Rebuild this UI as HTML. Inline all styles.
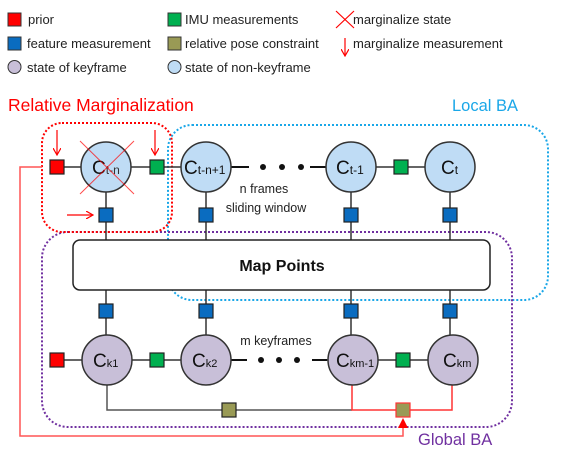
<!DOCTYPE html>
<html><head><meta charset="utf-8"><style>body{margin:0;background:#fff}svg{display:block;font-family:"Liberation Sans",sans-serif}</style></head><body>
<svg width="564" height="459" viewBox="0 0 564 459" xmlns="http://www.w3.org/2000/svg">
<defs><marker id="ah" markerWidth="8" markerHeight="8" refX="7" refY="4" orient="auto" markerUnits="userSpaceOnUse"><path d="M0,0 L7,4 L0,8" fill="none" stroke="#f00" stroke-width="1.2"/></marker></defs>
<!-- legend -->
<g font-size="13" fill="#222">
<rect x="8" y="13" width="13" height="13" fill="#f00" stroke="#333"/><text x="28" y="24">prior</text>
<rect x="8" y="37" width="13" height="13" fill="#0a6cc0" stroke="#333"/><text x="27" y="48">feature measurement</text>
<circle cx="14.5" cy="67" r="6.5" fill="#c8bfd8" stroke="#333"/><text x="27" y="72">state of keyframe</text>
<rect x="168" y="13" width="13" height="13" fill="#00b050" stroke="#333"/><text x="185" y="24">IMU measurements</text>
<rect x="168" y="37" width="13" height="13" fill="#999a55" stroke="#333"/><text x="185" y="48">relative pose constraint</text>
<circle cx="174.5" cy="67" r="6.5" fill="#bfdcf5" stroke="#333"/><text x="185" y="72">state of non-keyframe</text>
<path d="M336,11 L354,28 M354,11 L336,28" stroke="#f00" stroke-width="1.2"/><text x="353" y="24">marginalize state</text>
<path d="M345,38 L345,56" stroke="#f00" stroke-width="1.2" marker-end="url(#ah)"/><text x="353" y="48">marginalize measurement</text>
</g>
<!-- labels -->
<text x="8" y="111" font-size="17.5" fill="#f00">Relative Marginalization</text>
<text x="452" y="111" font-size="16.5" fill="#1aa7e8">Local BA</text>
<text x="418" y="445" font-size="16.5" fill="#7030a0">Global BA</text>
<!-- dotted boxes -->
<rect x="168" y="125" width="380" height="175" rx="24" fill="none" stroke="#1aa7e8" stroke-width="2" stroke-dasharray="2,2"/>
<rect x="42" y="232" width="470" height="195" rx="26" fill="none" stroke="#7030a0" stroke-width="2" stroke-dasharray="2,2"/>
<rect x="42" y="123" width="130" height="109" rx="20" fill="none" stroke="#f00" stroke-width="2" stroke-dasharray="2,2"/>
<!-- red marginalization path -->
<path d="M42,167 L20,167 L20,436 L403,436 L403,428" fill="none" stroke="#f55" stroke-width="1.5"/>
<path d="M398,428 L403,418 L408,428 Z" fill="#f00"/>
<!-- connectors -->
<g stroke="#333" stroke-width="1.5">
<line x1="57" y1="167" x2="450" y2="167"/>
<line x1="57" y1="360" x2="450" y2="360"/>
<line x1="106" y1="167" x2="106" y2="240"/><line x1="206" y1="167" x2="206" y2="240"/><line x1="351" y1="167" x2="351" y2="240"/><line x1="450" y1="167" x2="450" y2="240"/>
<line x1="106" y1="290" x2="106" y2="360"/><line x1="206" y1="290" x2="206" y2="360"/><line x1="351" y1="290" x2="351" y2="360"/><line x1="450" y1="290" x2="450" y2="360"/>
<path d="M107,384 L107,410 L352,410" fill="none" stroke="#555"/>
</g>
<path d="M352,384 L352,410 L452,410 L452,384" fill="none" stroke="#f33" stroke-width="1.5"/>
<!-- gaps for dots -->
<rect x="249" y="160" width="78" height="14" fill="#fff"/><rect x="247" y="353" width="66" height="14" fill="#fff"/>
<g stroke="#111" stroke-width="2"><line x1="230" y1="167" x2="249" y2="167"/><line x1="310" y1="167" x2="327" y2="167"/><line x1="230" y1="360" x2="247" y2="360"/><line x1="312" y1="360" x2="327" y2="360"/></g>
<g fill="#111"><circle cx="263" cy="167" r="3"/><circle cx="282" cy="167" r="3"/><circle cx="301" cy="167" r="3"/><circle cx="261" cy="360" r="3"/><circle cx="279" cy="360" r="3"/><circle cx="297" cy="360" r="3"/></g>
<!-- map points -->
<rect x="73" y="240" width="417" height="50" rx="7" fill="#fff" stroke="#222" stroke-width="1.5"/>
<text x="282" y="271" font-size="16" font-weight="bold" text-anchor="middle" fill="#111">Map Points</text>
<!-- circles -->
<g stroke="#333" stroke-width="1.5" fill="#bfdcf5">
<circle cx="106" cy="167" r="25"/><circle cx="206" cy="167" r="25"/><circle cx="351" cy="167" r="25"/><circle cx="450" cy="167" r="25"/>
</g>
<g stroke="#333" stroke-width="1.5" fill="#c8bfd8">
<circle cx="107" cy="360" r="25"/><circle cx="206" cy="360" r="25"/><circle cx="353" cy="360" r="25"/><circle cx="453" cy="360" r="25"/>
</g>
<g font-size="19" fill="#111">
<text x="92" y="174">C<tspan font-size="12" fill="#333">t-n</tspan></text>
<text x="184" y="174">C<tspan font-size="12">t-n+1</tspan></text>
<text x="336" y="174">C<tspan font-size="12">t-1</tspan></text>
<text x="441" y="174">C<tspan font-size="12">t</tspan></text>
<text x="93" y="367">C<tspan font-size="11">k1</tspan></text>
<text x="192" y="367">C<tspan font-size="11">k2</tspan></text>
<text x="336" y="367">C<tspan font-size="11">km-1</tspan></text>
<text x="443" y="367">C<tspan font-size="11">km</tspan></text>
</g>
<path d="M80,141 L134,194 M134,141 L80,194" stroke="#f00" stroke-width="1" opacity="0.7"/>
<!-- squares -->
<g stroke="#222" stroke-width="1.2">
<rect x="50" y="160" width="14" height="14" fill="#f00"/>
<rect x="150" y="160" width="14" height="14" fill="#00b050"/>
<rect x="394" y="160" width="14" height="14" fill="#00b050"/>
<rect x="50" y="353" width="14" height="14" fill="#f00"/>
<rect x="150" y="353" width="14" height="14" fill="#00b050"/>
<rect x="396" y="353" width="14" height="14" fill="#00b050"/>
<g fill="#0a6cc0">
<rect x="99" y="208" width="14" height="14"/><rect x="199" y="208" width="14" height="14"/><rect x="344" y="208" width="14" height="14"/><rect x="443" y="208" width="14" height="14"/>
<rect x="99" y="304" width="14" height="14"/><rect x="199" y="304" width="14" height="14"/><rect x="344" y="304" width="14" height="14"/><rect x="443" y="304" width="14" height="14"/>
</g>
<rect x="222" y="403" width="14" height="14" fill="#999a55"/>
<rect x="396" y="403" width="14" height="14" fill="#999a55" stroke="#f33"/>
</g>
<!-- red arrows -->
<g stroke="#f00" stroke-width="1.2" fill="none">
<line x1="57" y1="130" x2="57" y2="155" marker-end="url(#ah)"/>
<line x1="155" y1="130" x2="155" y2="155" marker-end="url(#ah)"/>
<line x1="67" y1="215" x2="93" y2="215" marker-end="url(#ah)"/>
</g>
<g font-size="12.5" fill="#222" text-anchor="middle">
<text x="264" y="193">n frames</text><text x="266" y="212">sliding window</text>
<text x="276" y="345">m keyframes</text>
</g>
</svg>
</body></html>
